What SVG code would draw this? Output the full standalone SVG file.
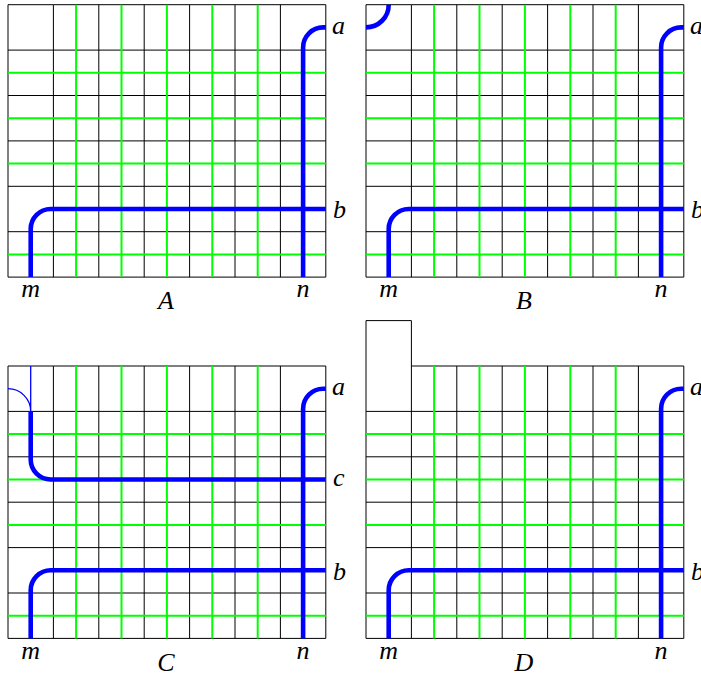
<svg xmlns="http://www.w3.org/2000/svg" xmlns:xlink="http://www.w3.org/1999/xlink" width="701" height="675" viewBox="0 0 701 675">
<style>
.k{stroke:#000;stroke-width:1;fill:none}
.g{stroke:#00ff00;stroke-width:2;fill:none}
.bl{stroke:#0000ff;stroke-width:4.6;fill:none}
.bt{stroke:#0000ff;stroke-width:1.3;fill:none}
.t{font-family:"Liberation Serif","Times New Roman",serif;font-style:italic;font-size:26px;fill:#000}
.m{text-anchor:middle}
</style>
<defs>
<g id="grid">
<path class="k" d="M0 0V272.4M45.4 0V272.4M90.8 0V272.4M136.2 0V272.4M181.6 0V272.4M227 0V272.4M272.4 0V272.4M317.8 0V272.4M45.4 0H317.8M0 45.4H317.8M0 90.8H317.8M0 136.2H317.8M0 181.6H317.8M0 227H317.8M0 272.4H317.8"/>
<path class="g" d="M68.1 0V272.4M113.5 0V272.4M158.9 0V272.4M204.3 0V272.4M249.7 0V272.4M0 68.1H317.8M0 113.5H317.8M0 158.9H317.8M0 249.7H317.8"/>
</g>
<path id="na" d="M295.1 272.4V42.7A20 20 0 0 1 315.1 22.7H317.8"/>
<path id="mb" d="M22.7 272.4V224.3A20 20 0 0 1 42.7 204.3H317.8"/>
</defs>
<g id="panelA" transform="translate(8,4.7)">
<use xlink:href="#grid"/>
<path class="k" d="M0 0H45.4"/>
<g id="connectorsA">
<use xlink:href="#na" class="bl"/>
<use xlink:href="#mb" class="bl"/>
</g>
<text class="t" x="324" y="29.3">a</text>
<text class="t" x="325" y="213.6">b</text>
<text class="t m" x="22.7" y="292.6">m</text>
<text class="t m" x="295.1" y="292.6">n</text>
<text class="t m" x="158" y="304.6">A</text>
</g>
<g id="panelB" transform="translate(366,4.7)">
<use xlink:href="#grid"/>
<path class="k" d="M0 0H45.4"/>
<g id="connectorsB">
<path class="bl" d="M0 22.7A22.7 22.7 0 0 0 22.7 0"/>
<use xlink:href="#na" class="bl"/>
<use xlink:href="#mb" class="bl"/>
</g>
<text class="t" x="324" y="29.3">a</text>
<text class="t" x="325" y="213.6">b</text>
<text class="t m" x="22.7" y="292.6">m</text>
<text class="t m" x="295.1" y="292.6">n</text>
<text class="t m" x="158" y="304.6">B</text>
</g>
<g id="panelC" transform="translate(8,366)">
<use xlink:href="#grid"/>
<path class="k" d="M0 0H45.4"/>
<g id="connectorsC">
<path class="bt" d="M0 22.7A22.7 22.7 0 0 1 22.7 45.4M22.7 0V45.4"/>
<path class="bl" d="M22.7 45.4V93.5A20 20 0 0 0 42.7 113.5H317.8"/>
<use xlink:href="#na" class="bl"/>
<use xlink:href="#mb" class="bl"/>
</g>
<text class="t" x="324" y="29.3">a</text>
<text class="t" x="325" y="120">c</text>
<text class="t" x="325" y="213.6">b</text>
<text class="t m" x="22.7" y="292.6">m</text>
<text class="t m" x="295.1" y="292.6">n</text>
<text class="t m" x="158" y="304.6">C</text>
</g>
<g id="panelD" transform="translate(366,366)">
<use xlink:href="#grid"/>
<path class="k" d="M0 -45.4V0M45.4 -45.4V0M0 -45.4H45.4"/>
<g id="connectorsD">
<use xlink:href="#na" class="bl"/>
<use xlink:href="#mb" class="bl"/>
</g>
<text class="t" x="324" y="29.3">a</text>
<text class="t" x="325" y="213.6">b</text>
<text class="t m" x="22.7" y="292.6">m</text>
<text class="t m" x="295.1" y="292.6">n</text>
<text class="t m" x="158" y="304.6">D</text>
</g>
</svg>
